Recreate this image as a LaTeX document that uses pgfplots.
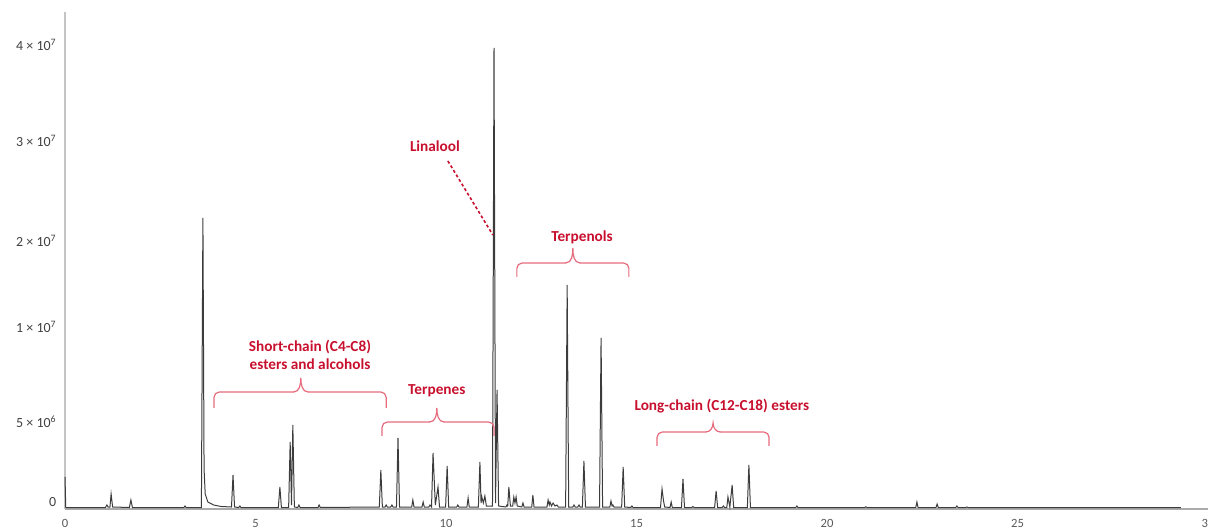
\documentclass[border=0pt]{standalone}
\usepackage{fontspec}
\setmainfont{Carlito}
\usepackage{pgfplots}
\pgfplotsset{compat=1.18}
\usepackage{pgfplotstable}

\definecolor{trace}{HTML}{3C3C3C}
\definecolor{xaxisgray}{HTML}{ABABAB}
\definecolor{yaxisgray}{HTML}{C4C4C4}
\definecolor{ticktext}{HTML}{404040}
\definecolor{xticktext}{HTML}{595959}
\definecolor{annot}{HTML}{C8102E}
\definecolor{bracecol}{HTML}{E56B7D}

% retention time (min) vs detector signal (a.u.)
\pgfplotstableread{
t s
0 32
0.02 1.5
1.06 1.5
1.10 4
1.13 2
1.18 2
1.21 15
1.25 2
1.69 1.5
1.73 9
1.77 1.5
3.12 1.5
3.15 3
3.18 1.5
3.58 1.5
3.62 291
3.65 40
3.68 15
3.75 7
3.90 4
4.10 2.5
4.37 2
4.41 34
4.45 2
4.56 1.5
4.59 3
4.62 1.5
5.60 1.5
5.64 22
5.68 1.5
5.87 1.5
5.91 67
5.945 4
5.98 84
6.02 2
6.11 1.5
6.14 4
6.17 1.5
6.64 1.5
6.67 4
6.70 1.5
8.25 2
8.29 39
8.33 2
8.40 2
8.43 4
8.46 2
8.55 2
8.58 4
8.61 2
8.70 2
8.74 71
8.78 2
9.10 2
9.13 9
9.16 2
9.37 2
9.40 7
9.43 2
9.55 2
9.58 4
9.62 2
9.66 56
9.72 4
9.79 22
9.83 2
9.99 2
10.03 43
10.07 2
10.28 2
10.31 4
10.34 2
10.55 2
10.58 11
10.61 2
10.85 2
10.89 47
10.92 6
10.94 12
10.98 6
11.02 13
11.06 3
11.22 3
11.26 461
11.30 6
11.34 119
11.38 3
11.57 2
11.60 4
11.62 3
11.65 22
11.69 3
11.75 3
11.78 12
11.81 6
11.84 12
11.87 3
11.99 2
12.02 6
12.05 2
12.25 2
12.28 14
12.31 2
12.65 2
12.68 9
12.71 4
12.73 7
12.77 3
12.81 6
12.86 3
12.91 4
12.95 2
13.14 2
13.18 224
13.22 2
13.33 2
13.36 4
13.39 2
13.46 2
13.49 4
13.52 2
13.58 2
13.62 48
13.66 2
14.03 2
14.07 171
14.11 2
14.30 2
14.33 8
14.36 3
14.38 4
14.41 2
14.61 2
14.65 42
14.69 2
14.85 1.5
14.88 3
14.91 1.5
15.63 1.5
15.67 20
15.71 8
15.74 2
15.88 1.5
15.91 7
15.94 1.5
16.18 1.5
16.22 30
16.26 1.5
16.45 1.5
16.48 2.5
16.51 1.5
17.05 1.5
17.09 18
17.13 1.5
17.25 1.5
17.28 3
17.31 1.5
17.37 1.5
17.40 12
17.45 2
17.51 24
17.55 1.5
17.91 1.5
17.95 44
17.99 1.5
19.18 1.5
19.21 3
19.24 1.5
20.99 1.5
21.02 2.2
21.05 1.5
22.33 1.5
22.36 7
22.39 1.5
22.86 1.5
22.89 5
22.92 1.5
23.38 1.5
23.41 3
23.44 1.5
23.64 1.5
23.67 2
23.70 1.5
29.29 1.5
}\chrom

% group bracket: #1 left, #2 middle, #3 right, #4 foot, #5 bar, #6 tip
\newcommand{\groupbrace}[6]{%
  \draw[bracecol, line width=0.9bp, rounded corners=4bp]
    (axis cs:#1,#4) -- (axis cs:#1,#5) -- ([xshift=-5bp]axis cs:#2,#5);
  \draw[bracecol, line width=0.9bp]
    ([xshift=-5.5bp]axis cs:#2,#5) to[out=0,in=-90] (axis cs:#2,#6)
    to[out=-90,in=180] ([xshift=5.5bp]axis cs:#2,#5);
  \draw[bracecol, line width=0.9bp, rounded corners=4bp]
    ([xshift=5bp]axis cs:#2,#5) -- (axis cs:#3,#5) -- (axis cs:#3,#4);
}

\begin{document}
\begin{tikzpicture}
\begin{axis}[
  name=ax,
  scale only axis,
  width=857.25bp, height=372.75bp,
  xmin=0, xmax=30, ymin=0, ymax=497,
  axis x line=bottom, axis y line=left,
  x axis line style={-, draw=xaxisgray, line width=0.8bp},
  y axis line style={-, draw=yaxisgray, line width=0.8bp},
  major tick length=0,
  xtick={0,5,...,30},
  ytick={7,87,182,268,368,464},
  yticklabels={0, 5 × 10\textsuperscript{6}, 1 × 10\textsuperscript{7},
    2 × 10\textsuperscript{7}, 3 × 10\textsuperscript{7}, 4 × 10\textsuperscript{7}},
  /pgf/number format/assume math mode=true,
  xticklabel style={font=\fontsize{9.5}{11}\selectfont, text=xticktext, yshift=-4.5bp},
  yticklabel style={font=\fontsize{10.5}{12}\selectfont, text=ticktext, xshift=-3bp},
  clip=false,
]
\addplot[trace, line width=0.75bp] table[x=t, y=s] {\chrom};

\groupbrace{3.91}{6.19}{8.43}{101}{117}{131}
\groupbrace{8.32}{9.76}{11.26}{73}{87}{101}
\groupbrace{11.86}{13.33}{14.80}{232}{246}{261}
\groupbrace{15.54}{17.01}{18.48}{63}{77}{86}

\begin{scope}[every node/.style={text=annot, font=\bfseries\fontsize{11.5}{13.5}\selectfont, inner sep=0pt}]
\node[align=center] at (axis cs:6.43,154) {Short-chain (C4-C8)\\esters and alcohols};
\node at (axis cs:9.76,118) {Terpenes};
\node at (axis cs:13.57,272) {Terpenols};
\node at (axis cs:17.24,103) {Long-chain (C12-C18) esters};
\node at (axis cs:9.71,363) {Linalool};
\end{scope}
\draw[annot, line width=1.2bp, dash pattern=on 2.2bp off 1.8bp]
  (axis cs:10.05,348) -- (axis cs:11.23,274);
\end{axis}
\pgfresetboundingbox
\path[use as bounding box] ([xshift=-48.75bp,yshift=-16.5bp]ax.south west)
  rectangle ([yshift=9bp]ax.north east);
\end{tikzpicture}
\end{document}
